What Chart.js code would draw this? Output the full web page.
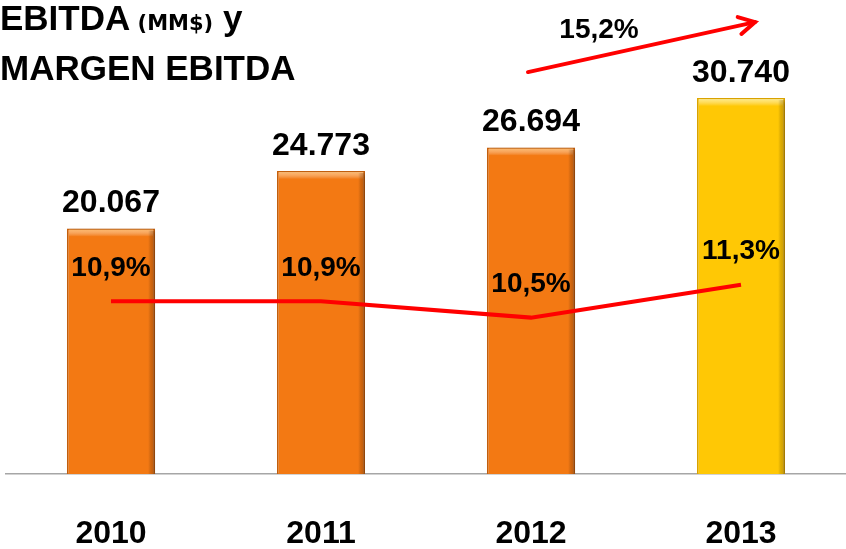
<!DOCTYPE html>
<html>
<head>
<meta charset="utf-8">
<script src="https://cdn.jsdelivr.net/npm/chart.js@4.4.1/dist/chart.umd.min.js"></script>
<style>
  html, body { margin: 0; padding: 0; background: #fff; }
  #wrap { width: 846px; height: 549px; position: relative; }
</style>
</head>
<body>
<div id="wrap"><canvas id="chart"></canvas></div>
<script>
// datos
const anios = ['2010', '2011', '2012', '2013'];
const ebitda = [20067, 24773, 26694, 30740];
const margen = [10.9, 10.9, 10.5, 11.3];
const crecimiento = '15,2%';
const tituloLinea1 = ['EBITDA', ' (MM$)', ' y'];
const tituloLinea2 = 'MARGEN EBITDA';

const fuente = '"Liberation Sans", Arial, sans-serif';

function miles(v) {
    // 20067 -> 20.067
    return String(v).replace(/\B(?=(\d{3})+(?!\d))/g, '.');
}
function pct(v) {
    return v.toFixed(1).replace('.', ',') + '%';
}

const colores = ebitda.map((v, i) => i === 3 ? '#FFC805' : '#F37913');
const bordes = ebitda.map((v, i) => i === 3 ? '#E2A900' : '#C9620E');

// titulo, etiquetas y flecha
const extras = {
    id: 'extras',
    beforeDatasetsDraw(chart) {
        const ctx = chart.ctx;
        ctx.save();
        ctx.fillStyle = '#000';
        ctx.textBaseline = 'alphabetic';
        ctx.textAlign = 'left';
        let x = 0;
        ctx.font = 'bold 35px ' + fuente;
        ctx.fillText(tituloLinea1[0], x, 30);
        x += ctx.measureText(tituloLinea1[0]).width;
        ctx.font = 'bold 21px "DejaVu Sans", sans-serif';
        ctx.fillText(tituloLinea1[1], x, 30);
        x += ctx.measureText(tituloLinea1[1]).width;
        ctx.font = 'bold 35px ' + fuente;
        ctx.fillText(tituloLinea1[2], x, 30);
        ctx.fillText(tituloLinea2, 0, 80);
        ctx.restore();
    },
    beforeDatasetDraw(chart, args) {
        if (args.index === 1) {
            const ctx = chart.ctx;
            ctx.save();
            ctx.shadowColor = 'rgba(0,0,0,0.35)';
            ctx.shadowBlur = 4;
            ctx.shadowOffsetX = 2;
            ctx.shadowOffsetY = 1;
        }
    },
    afterDatasetDraw(chart, args) {
        if (args.index === 1) {
            const ctx = chart.ctx;
            ctx.restore();
            // bisel claro arriba
            const meta = chart.getDatasetMeta(1);
            ctx.save();
            meta.data.forEach((bar, i) => {
                const w = bar.width;
                const g = ctx.createLinearGradient(0, bar.y, 0, bar.y + 8);
                g.addColorStop(0, i === 3 ? 'rgba(255,240,150,0.9)' : 'rgba(255,190,110,0.9)');
                g.addColorStop(1, 'rgba(255,255,255,0)');
                ctx.fillStyle = g;
                ctx.fillRect(bar.x - w / 2 + 2, bar.y + 1, w - 4, 8);
                const gl = ctx.createLinearGradient(bar.x + w / 2 - 7, 0, bar.x + w / 2, 0);
                gl.addColorStop(0, 'rgba(0,0,0,0)');
                gl.addColorStop(1, i === 3 ? 'rgba(170,120,0,0.45)' : 'rgba(140,60,0,0.45)');
                ctx.fillStyle = gl;
                ctx.fillRect(bar.x + w / 2 - 7, bar.y + 2, 6, bar.base - bar.y - 2);
            });
            ctx.restore();
        }
    },
    afterDatasetsDraw(chart) {
        const ctx = chart.ctx;
        const barras = chart.getDatasetMeta(1).data;
        const puntos = chart.getDatasetMeta(0).data;
        ctx.save();
        ctx.fillStyle = '#000';
        ctx.textAlign = 'center';
        ctx.textBaseline = 'middle';
        ctx.font = 'bold 32px ' + fuente;
        barras.forEach((b, i) => ctx.fillText(miles(ebitda[i]), b.x, b.y - 25));
        ctx.font = 'bold 28px ' + fuente;
        puntos.forEach((p, i) => ctx.fillText(pct(margen[i]), p.x, p.y - 33));

        // flecha de crecimiento
        const xs = chart.scales.x;
        const ys = chart.scales.y;
        const x0 = xs.getPixelForValue(2) - 3;
        const x1 = xs.getPixelForValue(3) + 14;
        const y0 = ys.getPixelForValue(ebitda[3]) - 26;
        const y1 = y0 - 50;
        ctx.strokeStyle = '#FF0000';
        ctx.lineWidth = 4;
        ctx.lineCap = 'round';
        ctx.beginPath();
        ctx.moveTo(x0, y0);
        ctx.lineTo(x1, y1);
        ctx.stroke();
        const ang = Math.atan2(y1 - y0, x1 - x0);
        ctx.beginPath();
        ctx.moveTo(x1 - 18 * Math.cos(ang - 0.5), y1 - 18 * Math.sin(ang - 0.5));
        ctx.lineTo(x1, y1);
        ctx.lineTo(x1 - 18 * Math.cos(ang + 0.5), y1 - 18 * Math.sin(ang + 0.5));
        ctx.stroke();
        ctx.fillText(crecimiento, x0 + 71, y1 + 8);
        ctx.restore();
    }
};

const ctx = document.getElementById('chart').getContext('2d');
const chart = new Chart(ctx, {
    data: {
        labels: anios,
        datasets: [
            {
                type: 'line',
                label: 'Margen EBITDA',
                data: margen,
                yAxisID: 'y1',
                borderColor: '#FF0000',
                borderWidth: 4,
                pointRadius: 0,
                tension: 0,
                fill: false,
                order: 0
            },
            {
                type: 'bar',
                label: 'EBITDA',
                data: ebitda,
                yAxisID: 'y',
                backgroundColor: colores,
                borderColor: bordes,
                borderWidth: 1.5,
                barPercentage: 0.42,
                categoryPercentage: 1,
                order: 1
            }
        ]
    },
    options: {
        responsive: true,
        maintainAspectRatio: false,
        animation: false,
        layout: { padding: { top: 46, left: 6, right: 0, bottom: 0 } },
        plugins: {
            legend: { display: false },
            tooltip: { enabled: false }
        },
        scales: {
            x: {
                grid: { display: false, drawTicks: false },
                border: { display: true, color: '#A6A6A6', width: 1.5 },
                ticks: {
                    color: '#000',
                    padding: 41,
                    font: { family: fuente, size: 32, weight: 'bold', lineHeight: 1.2 }
                },
                afterFit: s => { s.height = 75; }
            },
            y: {
                display: false,
                min: 0,
                max: 35000
            },
            y1: {
                display: false,
                min: 6.7,
                max: 17.1
            }
        }
    },
    plugins: [extras]
});
</script>
</body>
</html>
